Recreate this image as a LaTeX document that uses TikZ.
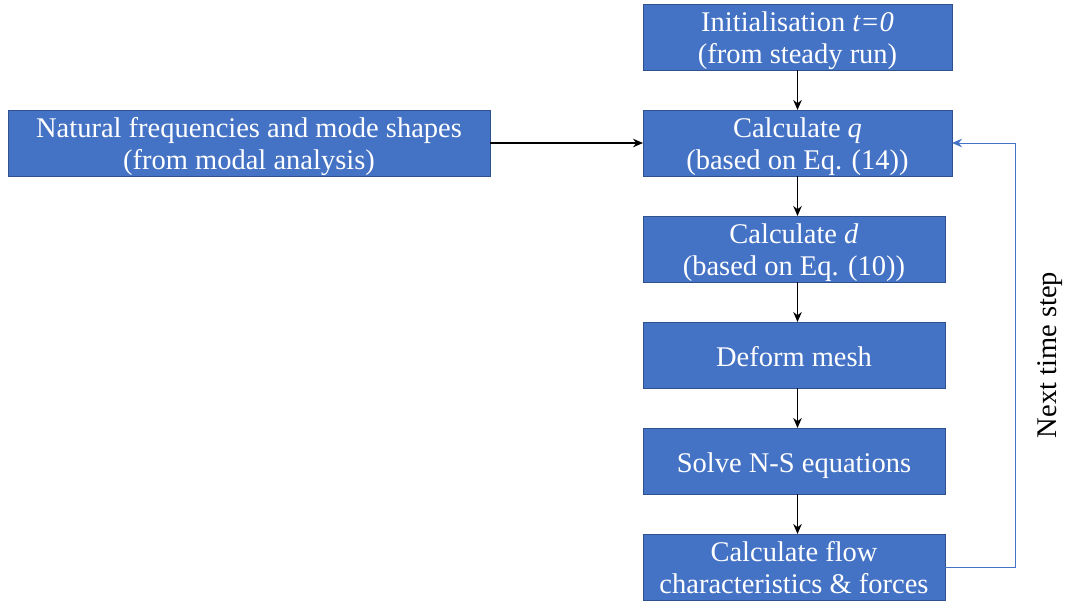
\documentclass[tikz,border=0pt]{standalone}
\usepackage{fontspec}
\setmainfont{Liberation Serif}
\usetikzlibrary{arrows, arrows.meta, positioning, calc}
\definecolor{boxblue}{HTML}{4472C4}
\definecolor{boxedge}{HTML}{2F528F}

\begin{document}
\begin{tikzpicture}[x=1pt, y=-1pt,
  block/.style={rectangle, draw=boxedge, line width=0.8pt, fill=boxblue, text=white, align=center, minimum width=302pt, minimum height=66pt, inner sep=0pt, outer sep=0pt, font=\fontsize{28.5}{32}\selectfont, text height=53pt, text depth=0pt},
  oneline/.style={block, text height=22pt},
  arrow/.style={->, >={Stealth[length=10pt, width=8.5pt]}, line width=1.5pt, color=black},
  loop/.style={->, >={Stealth[length=10pt, width=8.5pt]}, line width=1pt, color=boxblue}
]
\useasboundingbox (0,0) rectangle (1069,603);
\node[block, minimum width=309pt, anchor=north west] (init) at (643,4) {Initialisation \textit{t=0}\\(from steady run)};
\node[block, minimum width=309pt, below=40pt of init] (q) {Calculate \textit{q}\\(based on Eq. (14))};
\node[block, below=40pt of q.south west, anchor=north west] (d) {Calculate \textit{d}\\(based on Eq. (10))};
\node[oneline, below=40pt of d] (mesh) {Deform mesh};
\node[oneline, below=40pt of mesh] (ns) {Solve N-S equations};
\node[block, below=40pt of ns] (flow) {Calculate flow\\characteristics \& forces};
\node[block, minimum width=482pt, left=153pt of q] (modal) {Natural frequencies and mode shapes\\(from modal analysis)};
\coordinate (back) at (1015,0);
\node[rotate=90, font=\fontsize{28.5}{33}\selectfont] (nextlbl) at (1050,355) {Next time step};
\draw[arrow] (init) -- (q);
\draw[arrow] (modal) -- (q);
\draw[arrow] (q.south) -- (q.south |- d.north);
\draw[arrow] (q.south |- d.south) -- (q.south |- mesh.north);
\draw[arrow] (q.south |- mesh.south) -- (q.south |- ns.north);
\draw[arrow] (q.south |- ns.south) -- (q.south |- flow.north);
\draw[loop] (flow.east) -- (back |- flow.east) |- (q.east);
\end{tikzpicture}
\end{document}
